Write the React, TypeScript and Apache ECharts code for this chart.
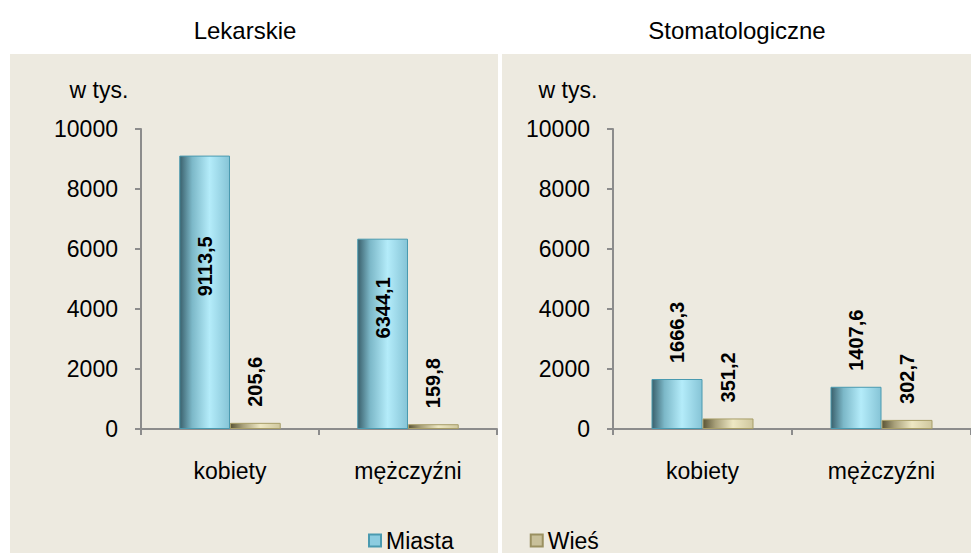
import React, { useEffect, useRef } from "react";
import * as echarts from "echarts";

const titles = ["Lekarskie", "Stomatologiczne"];
const categories = ["kobiety", "mężczyźni"];
const seriesNames = ["Miasta", "Wieś"];
const lekMiasta = [9113.5, 6344.1];
const lekWies = [205.6, 159.8];
const stoMiasta = [1666.3, 1407.6];
const stoWies = [351.2, 302.7];
const unitLabel = "w tys.";

const FONT = "Liberation Sans";
const FS = 23;
const fmt = (v: number) => v.toFixed(1).replace(".", ",");

const miastaFill = new echarts.graphic.LinearGradient(0, 0, 1, 0, [
  { offset: 0, color: "#3a606c" },
  { offset: 0.25, color: "#7cb8c8" },
  { offset: 0.6, color: "#b4ecfa" },
  { offset: 1, color: "#86c4d6" },
]);
const wiesFill = new echarts.graphic.LinearGradient(0, 0, 1, 0, [
  { offset: 0, color: "#5a5436" },
  { offset: 0.25, color: "#a8a07a" },
  { offset: 0.6, color: "#eee8c4" },
  { offset: 1, color: "#cfc79e" },
]);

export default function App() {
  const ref = useRef<HTMLDivElement>(null);
  useEffect(() => {
    document.body.style.margin = "0";
    const chart = echarts.init(ref.current!, null, { renderer: "svg" });
    const grids = [
      { left: 141, top: 129, width: 356, height: 300 },
      { left: 613, top: 129, width: 358, height: 300 },
    ];
    const axisLine = { lineStyle: { color: "#8c8c8c", width: 2 } };
    const xAxes = grids.map((_, i) => ({
      type: "category",
      gridIndex: i,
      data: categories,
      axisLine: { show: true, onZero: false, ...axisLine },
      axisTick: { show: true, length: 6, lineStyle: { color: "#8c8c8c", width: 2 } },
      axisLabel: { fontSize: FS, color: "#000", fontFamily: FONT, margin: 30 },
    }));
    const yAxes = grids.map((_, i) => ({
      type: "value",
      gridIndex: i,
      min: 0,
      max: 10000,
      interval: 2000,
      axisLine: { show: true, ...axisLine },
      axisTick: { show: true, length: 6, lineStyle: { color: "#8c8c8c", width: 2 } },
      splitLine: { show: false },
      axisLabel: {
        fontSize: FS,
        color: "#000",
        fontFamily: FONT,
        margin: 23,
        formatter: (v: number) => String(v),
      },
    }));
    const topLabel = {
      show: true,
      position: "top",
      rotate: 90,
      distance: 16,
      align: "left",
      verticalAlign: "middle",
      fontSize: 20,
      fontWeight: "bold",
      color: "#000",
      fontFamily: FONT,
      formatter: (p: any) => fmt(p.value),
    };
    const insideLabel = {
      ...topLabel,
      position: "inside",
      align: "center",
      offset: [26, 0],
    };
    const barCommon = {
      type: "bar",
      barGap: "0%",
      barCategoryGap: "43%",
    };
    const mStyle = { color: miastaFill, borderColor: "#4a9ab0", borderWidth: 1 };
    const wStyle = { color: wiesFill, borderColor: "#a89e68", borderWidth: 1 };
    const series = [
      { ...barCommon, name: seriesNames[0], xAxisIndex: 0, yAxisIndex: 0, data: lekMiasta, itemStyle: mStyle, label: insideLabel },
      { ...barCommon, name: seriesNames[1], xAxisIndex: 0, yAxisIndex: 0, data: lekWies, itemStyle: wStyle, label: topLabel },
      { ...barCommon, name: seriesNames[0], xAxisIndex: 1, yAxisIndex: 1, data: stoMiasta, itemStyle: mStyle, label: topLabel },
      { ...barCommon, name: seriesNames[1], xAxisIndex: 1, yAxisIndex: 1, data: stoWies, itemStyle: wStyle, label: topLabel },
    ];
    chart.setOption({
      animation: false,
      backgroundColor: "#ffffff",
      textStyle: { fontFamily: FONT },
      grid: grids,
      xAxis: xAxes,
      yAxis: yAxes,
      series,
      legend: {
        data: [
          { name: seriesNames[0], itemStyle: { color: "#8ccce0", borderColor: "#4a9ab0", borderWidth: 2 } },
          { name: seriesNames[1], itemStyle: { color: "#c8c09a", borderColor: "#9a9060", borderWidth: 2 } },
        ],
        left: 368,
        top: 529,
        padding: 0,
        itemWidth: 12,
        itemHeight: 12,
        itemGap: 76,
        icon: "rect",
        textStyle: { fontSize: FS, color: "#000", fontFamily: FONT },
      },
      graphic: [
        { type: "rect", z: -10, silent: true, shape: { x: 10, y: 54, width: 961, height: 499 }, style: { fill: "#edeae0" } },
        { type: "rect", z: -9, silent: true, shape: { x: 498, y: 54, width: 4, height: 499 }, style: { fill: "#ffffff" } },
        { type: "text", x: 245, y: 30, style: { text: titles[0], fontSize: 24, fill: "#000", fontFamily: FONT, align: "center", verticalAlign: "middle" } },
        { type: "text", x: 737, y: 30, style: { text: titles[1], fontSize: 24, fill: "#000", fontFamily: FONT, align: "center", verticalAlign: "middle" } },
        { type: "text", x: 99, y: 90, style: { text: unitLabel, fontSize: FS, fill: "#000", fontFamily: FONT, align: "center", verticalAlign: "middle" } },
        { type: "text", x: 568, y: 90, style: { text: unitLabel, fontSize: FS, fill: "#000", fontFamily: FONT, align: "center", verticalAlign: "middle" } },
      ],
    });
    return () => chart.dispose();
  }, []);
  return <div ref={ref} style={{ width: 971, height: 553 }} />;
}
